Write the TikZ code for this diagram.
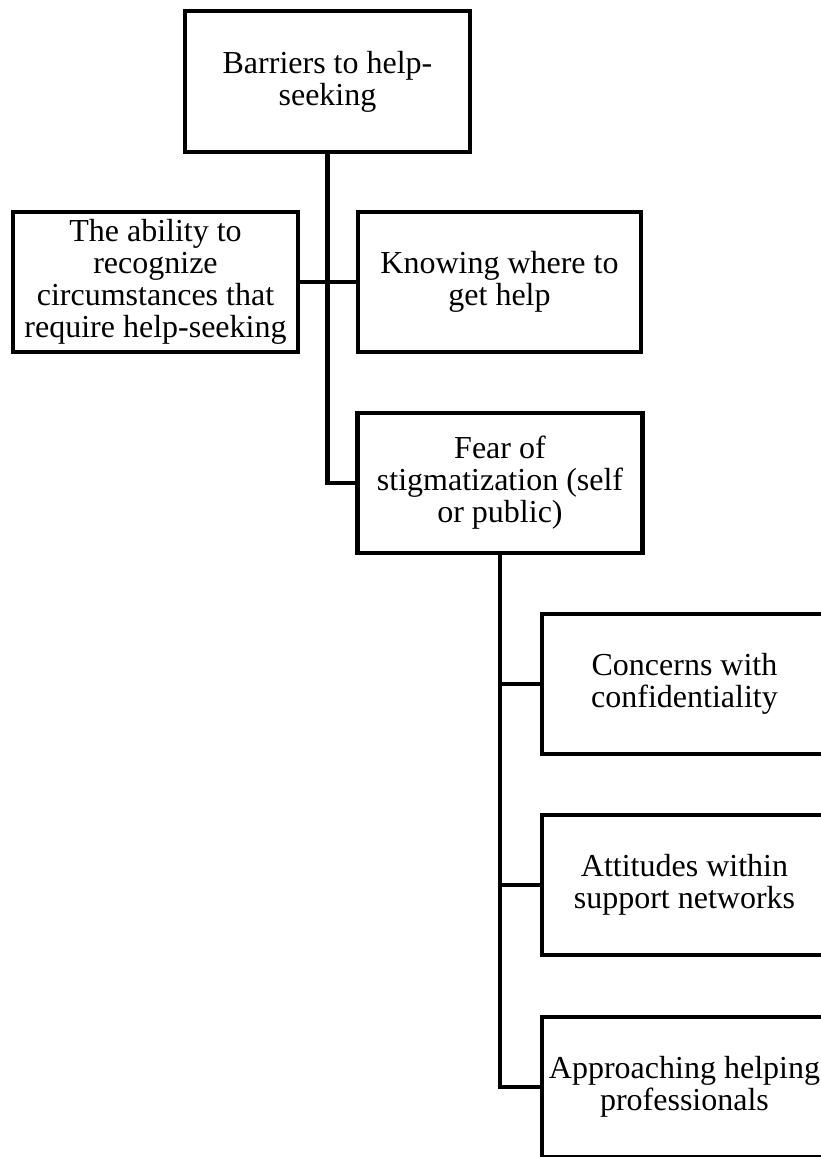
\documentclass[tikz,border=0pt]{standalone}
\usepackage{fontspec}
\setmainfont{Liberation Serif}
\begin{document}
\begin{tikzpicture}[x=1pt,y=-1pt,
  boxnode/.style={draw=black, line width=4.5pt, fill=white, minimum width=285pt, minimum height=140pt,
    align=center, inner sep=1pt, font=\fontsize{32}{32}\selectfont},
  conn/.style={draw=black, line width=4.5pt}]
\useasboundingbox (0,0) rectangle (821,1157);
\clip (0,0) rectangle (821,1157);
\fill[white] (0,0) rectangle (821,1157);
\node[boxnode, minimum height=141pt] (b1) at (327.5,81.5) {Barriers to help-\\seeking};
\node[boxnode] (b2) at (155.5,282) {The ability to\\recognize\\circumstances that\\require help-seeking};
\node[boxnode, minimum width=283pt] (b3) at (499.5,282) {Knowing where to\\get help};
\node[boxnode] (b4) at (500,483) {Fear of\\stigmatization (self\\or public)};
\node[boxnode] (b5) at (684.5,684) {Concerns with\\confidentiality};
\node[boxnode] (b6) at (684.5,885) {Attitudes within\\support networks};
\node[boxnode] (b7) at (684.5,1087) {Approaching helping\\professionals};
\draw[conn] (b1.south) |- (b4.west);
\draw[conn] (b2.east) -- (b3.west);
\draw[conn] (b4.south) |- (b7.west);
\draw[conn] (b4.south |- b5.west) -- (b5.west);
\draw[conn] (b4.south |- b6.west) -- (b6.west);
\end{tikzpicture}
\end{document}
